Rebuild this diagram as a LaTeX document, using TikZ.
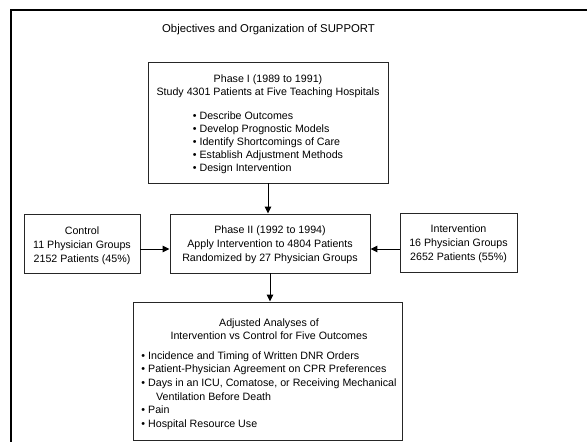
\documentclass[tikz,border=0pt]{standalone}
\usepackage{fontspec}
\setmainfont{Liberation Sans}
\usetikzlibrary{arrows.meta}
\begin{document}
\begin{tikzpicture}[x=0.75pt, y=-0.75pt,
    box/.style={draw=black!85, line width=0.7pt, inner sep=0pt},
    txt/.style={align=center, inner sep=0pt, font=\fontsize{8}{#1}\selectfont},
    txt/.default=9.75pt,
    flow/.style={-{Triangle[width=4.8pt,length=5.2pt]}, line width=0.7pt}]
  \useasboundingbox (0,0) rectangle (587,442);

  % outer frame, cut by the page
  \draw[line width=1.5pt] (10.5,460) -- (10.5,10) -- (600,10);

  \node[inner sep=0pt, font=\fontsize{8.5}{10}\selectfont] (title) at (268.5,29.5) {Objectives and Organization of SUPPORT};

  % boxes
  \node[box, minimum width=180pt, minimum height=90.75pt] (phaseone) at (268,122.5) {};
  \node[box, minimum width=150pt, minimum height=44.25pt] (phasetwo) at (270,243.5) {};
  \node[box, minimum width=87pt, minimum height=44.25pt] (control) at (82,244) {};
  \node[box, minimum width=87.75pt, minimum height=44.25pt] (interv) at (458.5,242.5) {};
  \node[box, minimum width=201.75pt, minimum height=103.5pt] (outcomes) at (267.5,371) {};

  % texts
  \node[txt] (phaseonetext) at (268,125.5) {%
    Phase I (1989 to 1991)\\
    Study 4301 Patients at Five Teaching Hospitals\\[8.25pt]
    \begin{tabular}[t]{@{}l@{}}
      \textbullet\ Describe Outcomes\\
      \textbullet\ Develop Prognostic Models\\
      \textbullet\ Identify Shortcomings of Care\\
      \textbullet\ Establish Adjustment Methods\\
      \textbullet\ Design Intervention
    \end{tabular}};
  \node[txt=10.5pt] (phasetwotext) at (270,245) {%
    Phase II (1992 to 1994)\\
    Apply Intervention to 4804 Patients\\
    Randomized by 27 Physician Groups};
  \node[txt=10.5pt] (controltext) at (82,245.5) {%
    Control\\
    11 Physician Groups\\
    2152 Patients (45\%)};
  \node[txt=10.5pt] (intervtext) at (458.5,244) {%
    Intervention\\
    16 Physician Groups\\
    2652 Patients (55\%)};
  \node[txt=10.2pt] (outcomestext) at (269,375) {%
    Adjusted Analyses of\\
    Intervention vs Control for Five Outcomes\\[4.25pt]
    \begin{tabular}[t]{@{}l@{}}
      \textbullet\ Incidence and Timing of Written DNR Orders\\
      \textbullet\ Patient-Physician Agreement on CPR Preferences\\
      \textbullet\ Days in an ICU, Comatose, or Receiving Mechanical\\
      \hspace*{11pt}Ventilation Before Death\\
      \textbullet\ Pain\\
      \textbullet\ Hospital Resource Use
    \end{tabular}};

  % arrows
  \coordinate (arrowrow) at (0,249);
  \draw[flow] (phaseone.south) -- (phaseone.south |- phasetwo.north);
  \draw[flow] (phasetwo.south) -- (phasetwo.south |- outcomes.north);
  \draw[flow] (control.east |- arrowrow) -- (phasetwo.west |- arrowrow);
  \draw[flow] (interv.west |- arrowrow) -- (phasetwo.east |- arrowrow);
\end{tikzpicture}
\end{document}
